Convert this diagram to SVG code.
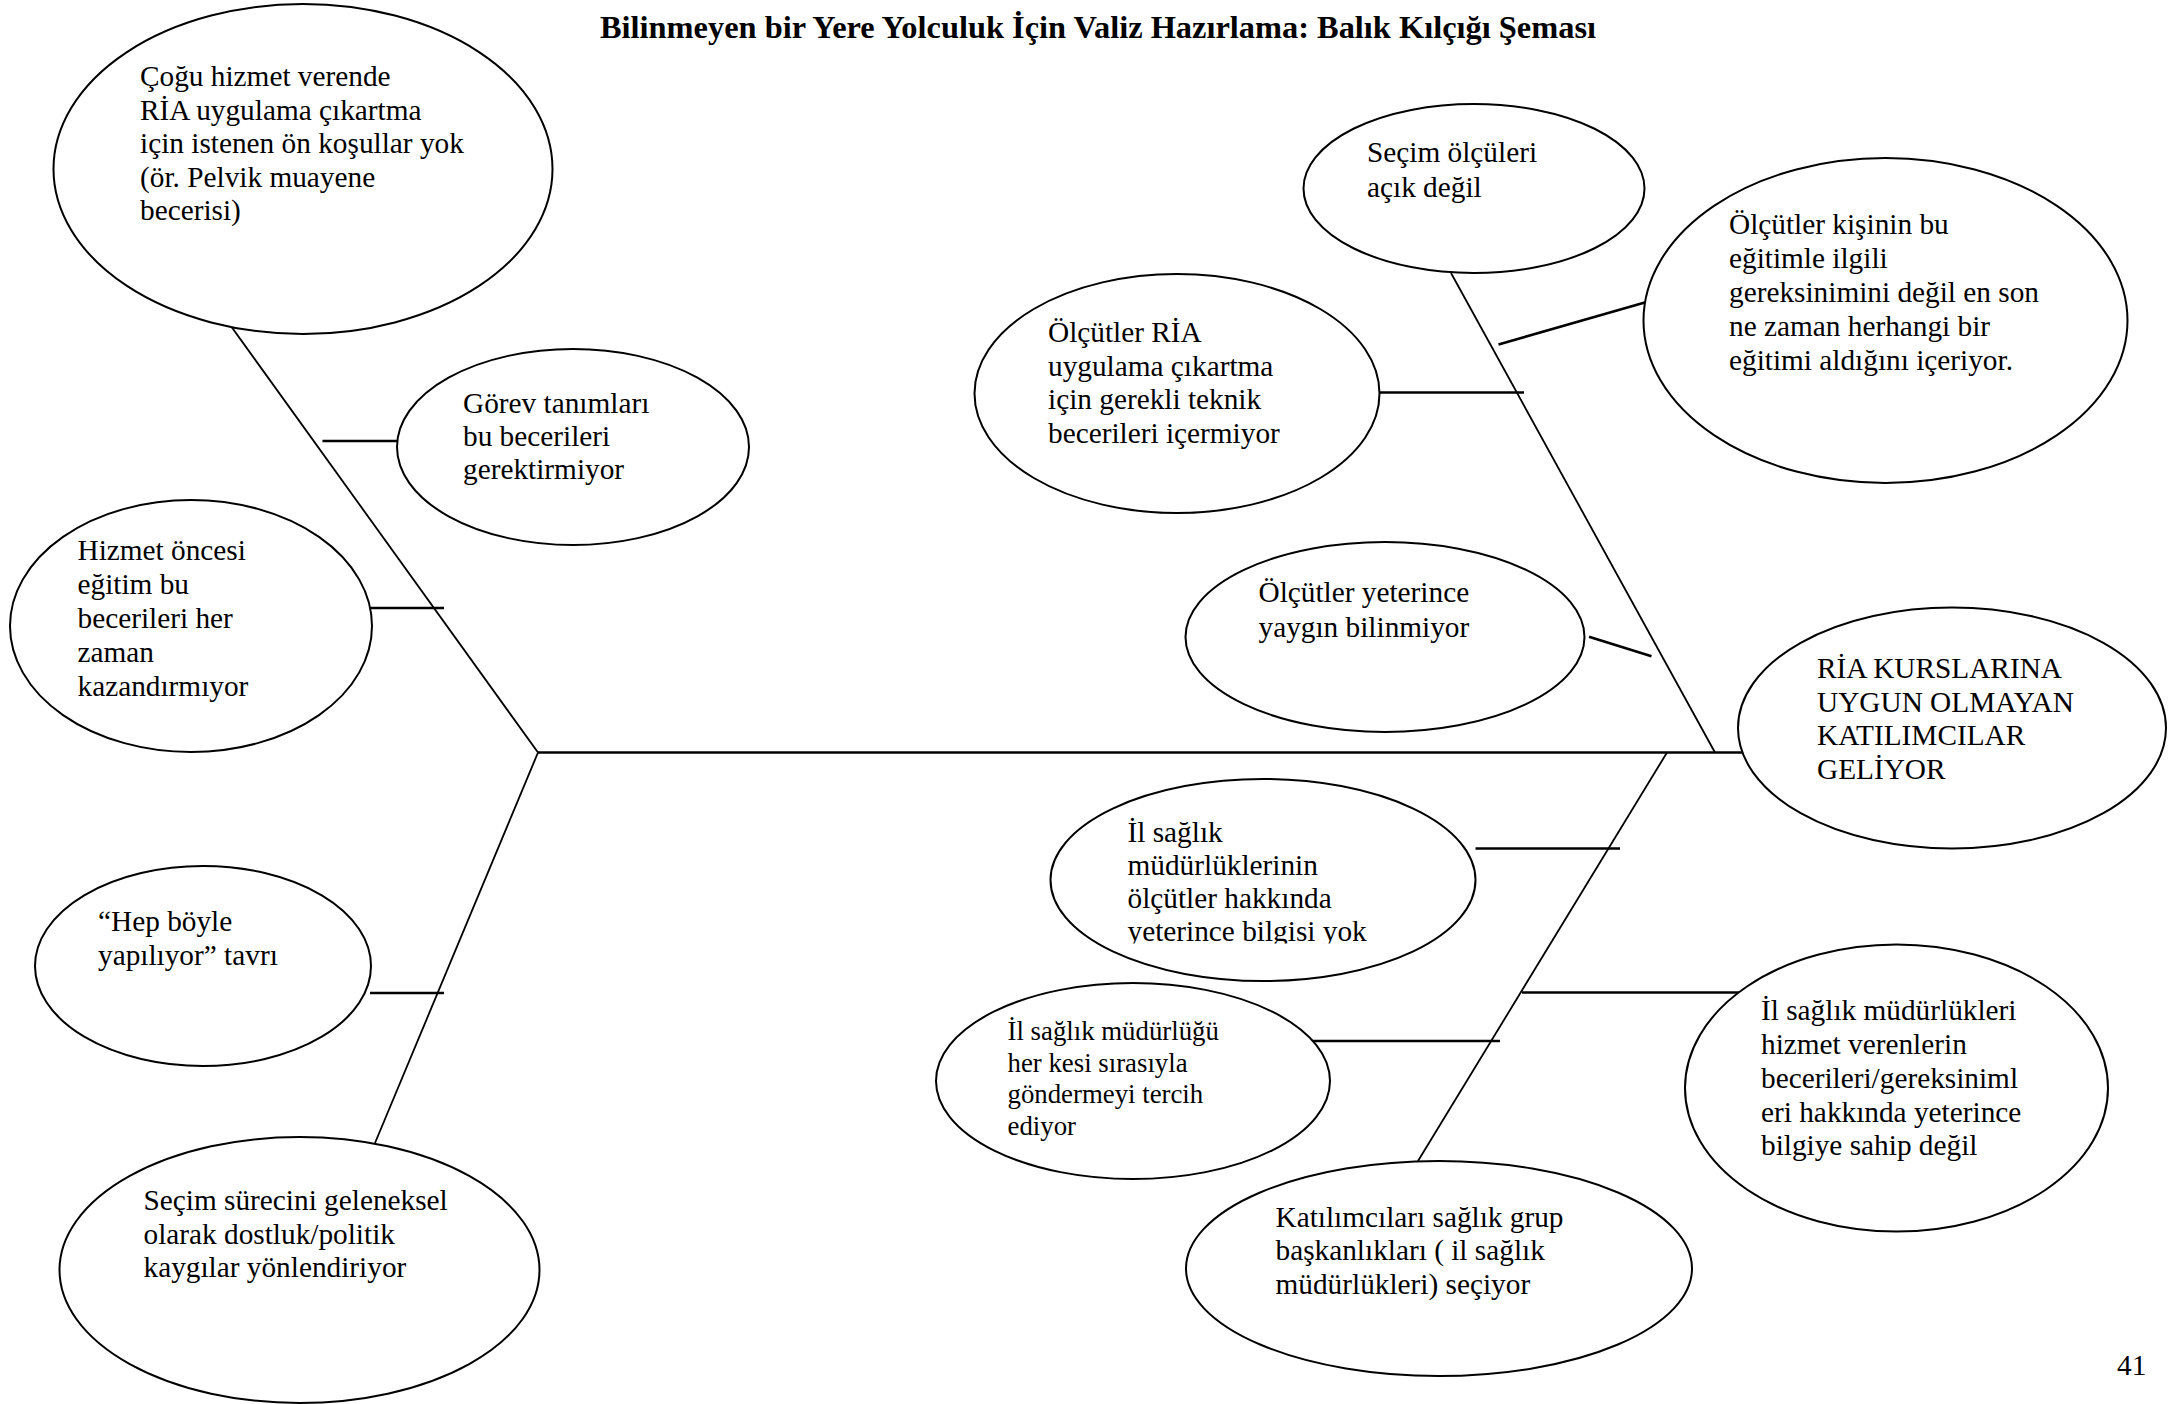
<svg xmlns="http://www.w3.org/2000/svg" width="2179" height="1404" viewBox="0 0 2179 1404">
<style>
text{font-family:"Liberation Serif","Times New Roman",serif;font-size:29.3px;fill:#000}
.title{font-weight:bold;font-size:32.4px}
.sm{font-size:26.8px}
ellipse{fill:#fff;stroke:#000;stroke-width:2}
.bone{stroke:#000;stroke-width:1.8;fill:none}
.tick{stroke:#000;stroke-width:2.6;fill:none}
</style>
<defs>
<clipPath id="clip11"><rect x="1040" y="760" width="440" height="183.5"/></clipPath>
</defs>
<rect width="2179" height="1404" fill="#fff"/>
<text class="title" x="1098" y="38" text-anchor="middle">Bilinmeyen bir Yere Yolculuk İçin Valiz Hazırlama: Balık Kılçığı Şeması</text>

<g id="connectors">
<line class="tick" x1="538" y1="752.5" x2="1742" y2="752.5"/>
<line class="bone" x1="228" y1="322" x2="538" y2="752.5"/>
<line class="bone" x1="538" y1="752.5" x2="375" y2="1143"/>
<line class="tick" x1="322.5" y1="441" x2="397" y2="441"/>
<line class="tick" x1="370" y1="608" x2="444" y2="608"/>
<line class="tick" x1="370" y1="993" x2="444" y2="993"/>
<line class="bone" x1="1451" y1="273" x2="1715" y2="752.5"/>
<line class="tick" x1="1498.5" y1="344.5" x2="1667.5" y2="296"/>
<line class="tick" x1="1379.5" y1="392.5" x2="1524" y2="392.5"/>
<line class="tick" x1="1589" y1="636.7" x2="1651.5" y2="656.2"/>
<line class="bone" x1="1667" y1="752.5" x2="1418" y2="1161"/>
<line class="tick" x1="1475.5" y1="848.5" x2="1620" y2="848.5"/>
<line class="tick" x1="1308" y1="1041" x2="1500" y2="1041"/>
<line class="tick" x1="1522" y1="992.5" x2="1739" y2="992.5"/>
</g>

<g id="n1">
<ellipse cx="303" cy="169" rx="249.5" ry="165"/>
<text><tspan x="140" y="86">Çoğu hizmet verende</tspan><tspan x="140" y="119.5">RİA uygulama çıkartma</tspan><tspan x="140" y="153">için istenen ön koşullar yok</tspan><tspan x="140" y="186.5">(ör. Pelvik muayene</tspan><tspan x="140" y="220">becerisi)</tspan></text>
</g>
<g id="n2">
<ellipse cx="573" cy="447" rx="176" ry="98"/>
<text><tspan x="463" y="413">Görev tanımları</tspan><tspan x="463" y="446">bu becerileri</tspan><tspan x="463" y="479">gerektirmiyor</tspan></text>
</g>
<g id="n3">
<ellipse cx="191" cy="626" rx="181" ry="126"/>
<text><tspan x="77.5" y="560">Hizmet öncesi</tspan><tspan x="77.5" y="594">eğitim bu</tspan><tspan x="77.5" y="628">becerileri her</tspan><tspan x="77.5" y="662">zaman</tspan><tspan x="77.5" y="696">kazandırmıyor</tspan></text>
</g>
<g id="n4">
<ellipse cx="203" cy="966" rx="168" ry="100"/>
<text><tspan x="98" y="930.5">“Hep böyle</tspan><tspan x="98" y="964.5">yapılıyor” tavrı</tspan></text>
</g>
<g id="n5">
<ellipse cx="299.5" cy="1270" rx="240" ry="133"/>
<text><tspan x="143.5" y="1210">Seçim sürecini geleneksel</tspan><tspan x="143.5" y="1243.5">olarak dostluk/politik</tspan><tspan x="143.5" y="1277">kaygılar yönlendiriyor</tspan></text>
</g>
<g id="n6">
<ellipse cx="1474" cy="188.5" rx="170.5" ry="84.5"/>
<text><tspan x="1367" y="162">Seçim ölçüleri</tspan><tspan x="1367" y="196.5">açık değil</tspan></text>
</g>
<g id="n7">
<ellipse cx="1885.5" cy="320.5" rx="242" ry="162.5"/>
<text><tspan x="1729" y="234">Ölçütler kişinin bu</tspan><tspan x="1729" y="268">eğitimle ilgili</tspan><tspan x="1729" y="302">gereksinimini değil en son</tspan><tspan x="1729" y="336">ne zaman herhangi bir</tspan><tspan x="1729" y="370">eğitimi aldığını içeriyor.</tspan></text>
</g>
<g id="n8">
<ellipse cx="1177" cy="393.5" rx="202.5" ry="119.5"/>
<text><tspan x="1048" y="341.5">Ölçütler RİA</tspan><tspan x="1048" y="375.5">uygulama çıkartma</tspan><tspan x="1048" y="409">için gerekli teknik</tspan><tspan x="1048" y="443">becerileri içermiyor</tspan></text>
</g>
<g id="n9">
<ellipse cx="1385" cy="637" rx="199.5" ry="95"/>
<text><tspan x="1258.5" y="602">Ölçütler yeterince</tspan><tspan x="1258.5" y="636.5">yaygın bilinmiyor</tspan></text>
</g>
<g id="n10">
<ellipse cx="1952" cy="728" rx="214" ry="120.5"/>
<text><tspan x="1817" y="678">RİA KURSLARINA</tspan><tspan x="1817" y="711.5">UYGUN OLMAYAN</tspan><tspan x="1817" y="745">KATILIMCILAR</tspan><tspan x="1817" y="778.5">GELİYOR</tspan></text>
</g>
<g id="n11">
<ellipse cx="1263" cy="880" rx="212.5" ry="101"/>
<text clip-path="url(#clip11)"><tspan x="1127.5" y="841.5">İl sağlık</tspan><tspan x="1127.5" y="874.5">müdürlüklerinin</tspan><tspan x="1127.5" y="908">ölçütler hakkında</tspan><tspan x="1127.5" y="941">yeterince bilgisi yok</tspan></text>
</g>
<g id="n12">
<ellipse cx="1133" cy="1081" rx="197" ry="98"/>
<text class="sm"><tspan x="1007.5" y="1040">İl sağlık müdürlüğü</tspan><tspan x="1007.5" y="1071.5">her kesi sırasıyla</tspan><tspan x="1007.5" y="1103">göndermeyi tercih</tspan><tspan x="1007.5" y="1134.5">ediyor</tspan></text>
</g>
<g id="n13">
<ellipse cx="1896.5" cy="1088" rx="211.5" ry="143.5"/>
<text><tspan x="1761" y="1020">İl sağlık müdürlükleri</tspan><tspan x="1761" y="1053.5">hizmet verenlerin</tspan><tspan x="1761" y="1087.5">becerileri/gereksiniml</tspan><tspan x="1761" y="1121.5">eri hakkında yeterince</tspan><tspan x="1761" y="1155">bilgiye sahip değil</tspan></text>
</g>
<g id="n14">
<ellipse cx="1439" cy="1268.5" rx="253" ry="107.5"/>
<text><tspan x="1275.5" y="1226.5">Katılımcıları sağlık grup</tspan><tspan x="1275.5" y="1260">başkanlıkları ( il sağlık</tspan><tspan x="1275.5" y="1293.5">müdürlükleri) seçiyor</tspan></text>
</g>
<text x="2117" y="1375">41</text>
</svg>
